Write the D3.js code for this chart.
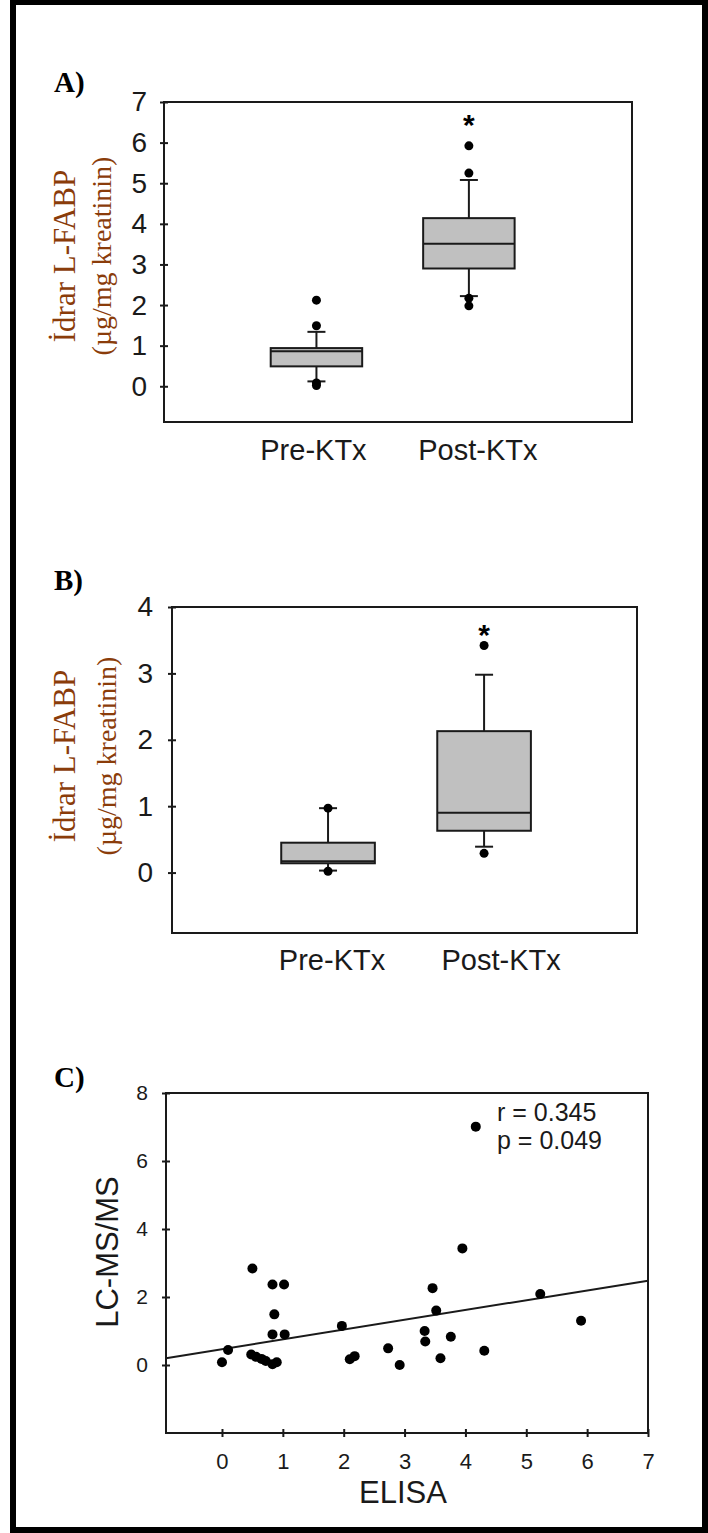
<!DOCTYPE html>
<html>
<head>
<meta charset="utf-8">
<script src="https://cdn.jsdelivr.net/npm/d3@7/dist/d3.min.js"></script>
<style>
  body { margin: 0; background: #fff; }
  svg { display: block; background: #fff; }
  .axis path.domain { display: none; }
  .axis line { stroke: #1a1a1a; stroke-width: 2; }
</style>
</head>
<body>
<svg id="fig" width="708" height="1533"></svg>
<script>
// groups on the box plots
const groups = ["Pre-KTx", "Post-KTx"];

// panel A - idrar L-FABP
const aQ1 = [0.49, 2.90];
const aMedian = [0.86, 3.51];
const aQ3 = [0.94, 4.14];
const aLow = [0.12, 2.22];
const aHigh = [1.34, 5.08];
const aOutliers = [[2.12, 1.49, 0.08, 0.02], [5.92, 5.25, 2.17, 1.98]];
const aStar = [null, 6.6];
const aTicks = [0, 1, 2, 3, 4, 5, 6, 7];

// panel B
const bQ1 = [0.14, 0.63];
const bMedian = [0.17, 0.90];
const bQ3 = [0.45, 2.13];
const bLow = [0.03, 0.39];
const bHigh = [0.97, 2.98];
const bOutliers = [[0.97, 0.02], [3.42, 0.29]];
const bStar = [null, 3.68];
const bTicks = [0, 1, 2, 3, 4];

// panel C - ELISA vs LC-MS/MS
const elisa = [0.00, 0.10, 0.48, 0.50, 0.56, 0.65, 0.72, 0.83, 0.90, 0.83,
  1.02, 0.86, 0.83, 1.03, 1.97, 2.10, 2.18, 2.73, 2.92, 3.33,
  3.34, 3.46, 3.52, 3.59, 3.76, 3.95, 4.17, 4.31, 5.23, 5.90];
const lcms = [0.08, 0.44, 0.31, 2.84, 0.24, 0.18, 0.12, 0.02, 0.08, 2.37,
  2.37, 1.49, 0.90, 0.90, 1.15, 0.17, 0.26, 0.49, 0.00, 1.00,
  0.69, 2.26, 1.60, 0.20, 0.83, 3.43, 7.01, 0.42, 2.09, 1.30];
const fitIntercept = 0.465;
const fitSlope = 0.288;
const statsText = ["r = 0.345", "p = 0.049"];
const cxTicks = [0, 1, 2, 3, 4, 5, 6, 7];
const cyTicks = [0, 2, 4, 6, 8];

const svg = d3.select("#fig");
const serif = "'Liberation Serif', 'Times New Roman', serif";
const sans = "'Liberation Sans', Arial, sans-serif";
const ink = "#1a1a1a";
const labelColor = "#8a3c0a";
const intFmt = d3.format("d");

// outer frame
svg.append("rect")
  .attr("x", 13).attr("y", 2)
  .attr("width", 692).attr("height", 1528)
  .attr("fill", "none").attr("stroke", "#000").attr("stroke-width", 6);

function panelLetter(txt, x, y) {
  svg.append("text")
    .attr("x", x).attr("y", y)
    .attr("font-family", serif).attr("font-weight", "bold")
    .attr("font-size", 29).attr("fill", "#000")
    .text(txt);
}

function crossTicks(g, vertical) {
  // ticks cross the axis line on both sides
  if (vertical) g.selectAll(".tick line").attr("x1", 4);
  else g.selectAll(".tick line").attr("y1", -4);
}

function boxPanel(p) {
  const g = svg.append("g");
  const x = d3.scaleLinear().domain([0, p.xMax]).range([p.left, p.right]);
  const y = d3.scaleLinear().domain(p.yDomain).range([p.bottom, p.top]);
  const bw = x(0.6) - x(0);
  const cap = 18;

  const yAxis = g.append("g")
    .attr("class", "axis")
    .attr("transform", `translate(${p.left},0)`)
    .call(d3.axisLeft(y).tickValues(p.ticks).tickFormat(intFmt)
      .tickSizeInner(4).tickSizeOuter(0).tickPadding(p.pad));
  crossTicks(yAxis, true);
  yAxis.selectAll("text")
    .attr("font-family", sans).attr("font-size", 28).attr("fill", ink);

  groups.forEach((name, i) => {
    const cx = x(i + 1);
    // whiskers
    g.append("line").attr("x1", cx).attr("x2", cx)
      .attr("y1", y(p.q3[i])).attr("y2", y(p.high[i]))
      .attr("stroke", ink).attr("stroke-width", 2);
    g.append("line").attr("x1", cx).attr("x2", cx)
      .attr("y1", y(p.q1[i])).attr("y2", y(p.low[i]))
      .attr("stroke", ink).attr("stroke-width", 2);
    [p.high[i], p.low[i]].forEach(v => {
      g.append("line").attr("x1", cx - cap / 2).attr("x2", cx + cap / 2)
        .attr("y1", y(v)).attr("y2", y(v))
        .attr("stroke", ink).attr("stroke-width", 2);
    });
    // box
    g.append("rect")
      .attr("x", cx - bw / 2).attr("width", bw)
      .attr("y", y(p.q3[i])).attr("height", y(p.q1[i]) - y(p.q3[i]))
      .attr("fill", "#c0c0c0").attr("stroke", ink).attr("stroke-width", 2);
    g.append("line").attr("x1", cx - bw / 2).attr("x2", cx + bw / 2)
      .attr("y1", y(p.median[i])).attr("y2", y(p.median[i]))
      .attr("stroke", ink).attr("stroke-width", 2);
    // outliers
    g.selectAll(null).data(p.outliers[i]).join("circle")
      .attr("cx", cx).attr("cy", d => y(d)).attr("r", 4.5).attr("fill", "#000");
    if (p.star[i] !== null) {
      g.append("text")
        .attr("x", cx).attr("y", y(p.star[i]) + 17)
        .attr("text-anchor", "middle")
        .attr("font-family", sans).attr("font-weight", "bold")
        .attr("font-size", 30).attr("fill", "#000")
        .text("*");
    }
    g.append("text")
      .attr("x", cx + p.labelShift[i]).attr("y", p.labelY)
      .attr("text-anchor", "middle")
      .attr("font-family", sans).attr("font-size", 29).attr("fill", ink)
      .text(name);
  });

  g.append("rect")
    .attr("x", p.left).attr("y", p.top)
    .attr("width", p.right - p.left).attr("height", p.bottom - p.top)
    .attr("fill", "none").attr("stroke", ink).attr("stroke-width", 2);

  // y title, two lines
  g.append("text")
    .attr("transform", `translate(${p.title1X},${p.titleY}) rotate(-90)`)
    .attr("text-anchor", "middle")
    .attr("font-family", serif).attr("font-size", 31).attr("fill", labelColor)
    .text("İdrar L-FABP");
  g.append("text")
    .attr("transform", `translate(${p.title2X},${p.titleY}) rotate(-90)`)
    .attr("text-anchor", "middle")
    .attr("font-family", serif).attr("font-size", 28).attr("fill", labelColor)
    .text("(µg/mg kreatinin)");
}

panelLetter("A)", 54, 92);
boxPanel({
  left: 164, right: 632, top: 102, bottom: 422, yDomain: [-0.88, 7], xMax: 3.07,
  ticks: aTicks, pad: 13,
  q1: aQ1, median: aMedian, q3: aQ3, low: aLow, high: aHigh,
  outliers: aOutliers, star: aStar,
  labelY: 460, labelShift: [-3, 9],
  title1X: 75, title2X: 111, titleY: 256
});

panelLetter("B)", 54, 590);
boxPanel({
  left: 172, right: 637, top: 607, bottom: 933, yDomain: [-0.91, 4], xMax: 2.98,
  ticks: bTicks, pad: 15,
  q1: bQ1, median: bMedian, q3: bQ3, low: bLow, high: bHigh,
  outliers: bOutliers, star: bStar,
  labelY: 970, labelShift: [4, 17],
  title1X: 75, title2X: 116, titleY: 756
});

// panel C scatter
panelLetter("C)", 54, 1087);
const cL = 166, cR = 648, cT = 1093, cB = 1433;
const cx = d3.scaleLinear().domain([-0.92, 7]).range([cL, cR]);
const cy = d3.scaleLinear().domain([-2, 8]).range([cB, cT]);
const gc = svg.append("g");

const cxAxis = gc.append("g")
  .attr("class", "axis")
  .attr("transform", `translate(0,${cB})`)
  .call(d3.axisBottom(cx).tickValues(cxTicks).tickFormat(intFmt)
    .tickSizeInner(4).tickSizeOuter(0).tickPadding(16));
crossTicks(cxAxis, false);
cxAxis.selectAll("text").attr("font-family", sans).attr("font-size", 22).attr("fill", ink);

const cyAxis = gc.append("g")
  .attr("class", "axis")
  .attr("transform", `translate(${cL},0)`)
  .call(d3.axisLeft(cy).tickValues(cyTicks).tickFormat(intFmt)
    .tickSizeInner(4).tickSizeOuter(0).tickPadding(14));
crossTicks(cyAxis, true);
cyAxis.selectAll("text").attr("font-family", sans).attr("font-size", 21).attr("fill", ink);

gc.append("line")
  .attr("x1", cx(-0.92)).attr("y1", cy(fitIntercept + fitSlope * -0.92))
  .attr("x2", cx(7)).attr("y2", cy(fitIntercept + fitSlope * 7))
  .attr("stroke", ink).attr("stroke-width", 2);

gc.selectAll("circle.pt").data(elisa).join("circle")
  .attr("class", "pt")
  .attr("cx", d => cx(d))
  .attr("cy", (d, i) => cy(lcms[i]))
  .attr("r", 5).attr("fill", "#000");

gc.append("rect")
  .attr("x", cL).attr("y", cT).attr("width", cR - cL).attr("height", cB - cT)
  .attr("fill", "none").attr("stroke", ink).attr("stroke-width", 2);

statsText.forEach((t, i) => {
  gc.append("text")
    .attr("x", 497).attr("y", 1121 + i * 28)
    .attr("font-family", sans).attr("font-size", 25).attr("fill", ink)
    .text(t);
});

gc.append("text")
  .attr("x", 403).attr("y", 1503)
  .attr("text-anchor", "middle")
  .attr("font-family", sans).attr("font-size", 31).attr("fill", ink)
  .text("ELISA");

gc.append("text")
  .attr("transform", `translate(118,1252) rotate(-90)`)
  .attr("text-anchor", "middle")
  .attr("font-family", sans).attr("font-size", 31).attr("fill", ink)
  .text("LC-MS/MS");
</script>
</body>
</html>
